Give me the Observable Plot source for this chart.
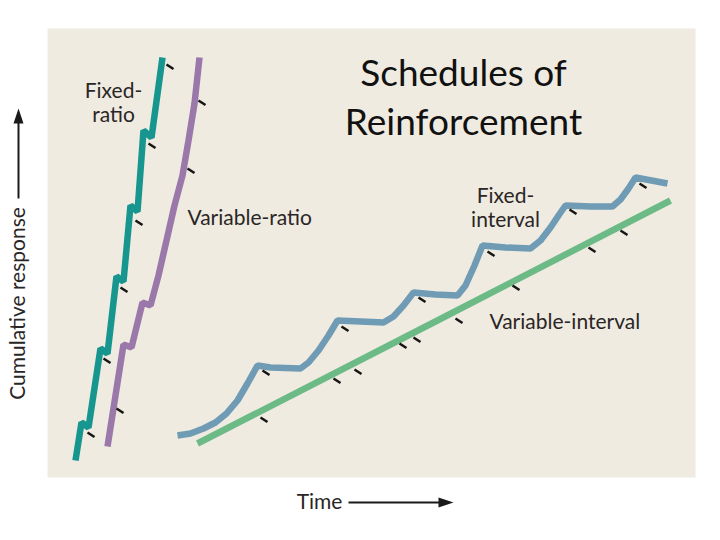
<!DOCTYPE html>
<html><head><meta charset="utf-8">
<script src="https://cdn.jsdelivr.net/npm/d3@7"></script>
<script src="https://cdn.jsdelivr.net/npm/@observablehq/plot@0.6"></script>
<style>
body{margin:0;background:#fff;}
#chart{width:720px;height:540px;}
</style>
</head><body><div id="chart"></div>
<script>
// Data: [time, cumulative response] (arbitrary units)
const fixedRatio = [[28,17],[34,55],[41,50],[53,129],[60,124],[69,201],[76,196],[83,272],[90,266],[96,347],[104,340],[115,420]];
const fixedRatioReinf = [[40,45],[56,119],[73,190],[88,257],[101,334],[119,413]];

const variableRatio = [[60,31],[76,133],[84,130],[95,175],[103,172],[111,202],[119,237],[127,272],[135,302],[141,337],[147,374],[152,420]];
const variableRatioReinf = [[69,69],[140,309],[151,377]];

const fixedInterval = [[130,42],[143,44],[156,49],[168,55],[179,64],[190,77],[200,94],[210,112],[223,110],[253,109],[261,115],[271,127],[281,142],[290,157],[313,156],[336,155],[346,161],[356,172],[366,185],[388,183],[410,182],[418,192],[427,212],[435,232],[458,230],[483,229],[493,237],[503,250],[511,262],[518,272],[543,271],[565,271],[573,278],[581,289],[588,300],[620,294]];
const fixedIntervalReinf = [[215,107],[294,151],[371,180],[440,226],[522,268],[592,294]];

const variableInterval = [[150,34],[386,155],[623,277]];
const variableIntervalReinf = [[213,60],[286,99],[307,108],[352,134],[366,140],[408,159],[465,192],[541,230],[573,247]];

const seriesNames = ["Fixed-ratio","Variable-ratio","Fixed-interval","Variable-interval"];
const seriesColors = ["#17968f","#9a78aa","#6f9bb5","#6cba86"];

const titleText = "Schedules of\nReinforcement";
const yLabel = "Cumulative response";
const xLabel = "Time";

const rows = (pts, series) => pts.map(([t, r]) => ({t, r, series}));
const lineRows = [
  ...rows(fixedRatio, seriesNames[0]),
  ...rows(variableRatio, seriesNames[1]),
  ...rows(fixedInterval, seriesNames[2]),
  ...rows(variableInterval, seriesNames[3])
];
const reinfRows = [
  ...rows(fixedRatioReinf, seriesNames[0]),
  ...rows(variableRatioReinf, seriesNames[1]),
  ...rows(fixedIntervalReinf, seriesNames[2]),
  ...rows(variableIntervalReinf, seriesNames[3])
];

const centeredLabels = [
  {t: 66, r: 375, text: "Fixed-\nratio"},
  {t: 458, r: 270, text: "Fixed-\ninterval"}
];
const startLabels = [
  {t: 140, r: 259, text: "Variable-ratio"},
  {t: 442, r: 155, text: "Variable-interval"}
];

const font = "Lato, 'Open Sans', sans-serif";
const ink = "#1a1a1a";

const chart = Plot.plot({
  width: 720,
  height: 540,
  marginLeft: 47,
  marginRight: 25,
  marginTop: 28,
  marginBottom: 63,
  style: {background: "#ffffff", fontFamily: font, overflow: "visible"},
  x: {domain: [0, 648], axis: null},
  y: {domain: [0, 449], axis: null},
  color: {domain: seriesNames, range: seriesColors},
  marks: [
    Plot.frame({fill: "#efebe0", stroke: "none"}),
    Plot.line(lineRows, {x: "t", y: "r", z: "series", stroke: "series", strokeWidth: 6.5, strokeLinejoin: "miter", strokeLinecap: "butt"}),
    Plot.link(reinfRows, {x1: "t", y1: "r", x2: d => d.t + 7, y2: d => d.r - 4.5, stroke: "#151515", strokeWidth: 2.5}),
    Plot.text(centeredLabels, {x: "t", y: "r", text: "text", fontSize: 21, fill: "#2a2626", lineHeight: 1.15, textAnchor: "middle"}),
    Plot.text(startLabels, {x: "t", y: "r", text: "text", fontSize: 21, fill: "#2a2626", textAnchor: "start"}),
    Plot.text([titleText], {x: 416, y: 383, text: d => d, fontSize: 37, fill: "#111", lineHeight: 1.35, textAnchor: "middle", fontFamily: font}),
    // y axis label with arrow
    Plot.text([yLabel], {x: -29, y: 174, text: d => d, rotate: -90, fontSize: 21, fill: "#2a2626", textAnchor: "middle"}),
    Plot.link([yLabel], {x1: -29, y1: 279, x2: -29, y2: 360, stroke: ink, strokeWidth: 2}),
    Plot.vector([yLabel], {x: -29, y: 369, rotate: 0, length: 15, r: 5, shape: "spike", anchor: "end", fill: ink, stroke: "none"}),
    // x axis label with arrow
    Plot.text([xLabel], {x: 272, y: -25, text: d => d, fontSize: 21, fill: "#2a2626", textAnchor: "middle"}),
    Plot.link([xLabel], {x1: 301, y1: -25, x2: 397, y2: -25, stroke: ink, strokeWidth: 2}),
    Plot.vector([xLabel], {x: 406, y: -25, rotate: 90, length: 15, r: 5, shape: "spike", anchor: "end", fill: ink, stroke: "none"})
  ]
});
document.getElementById("chart").append(chart);
</script>
</body></html>
